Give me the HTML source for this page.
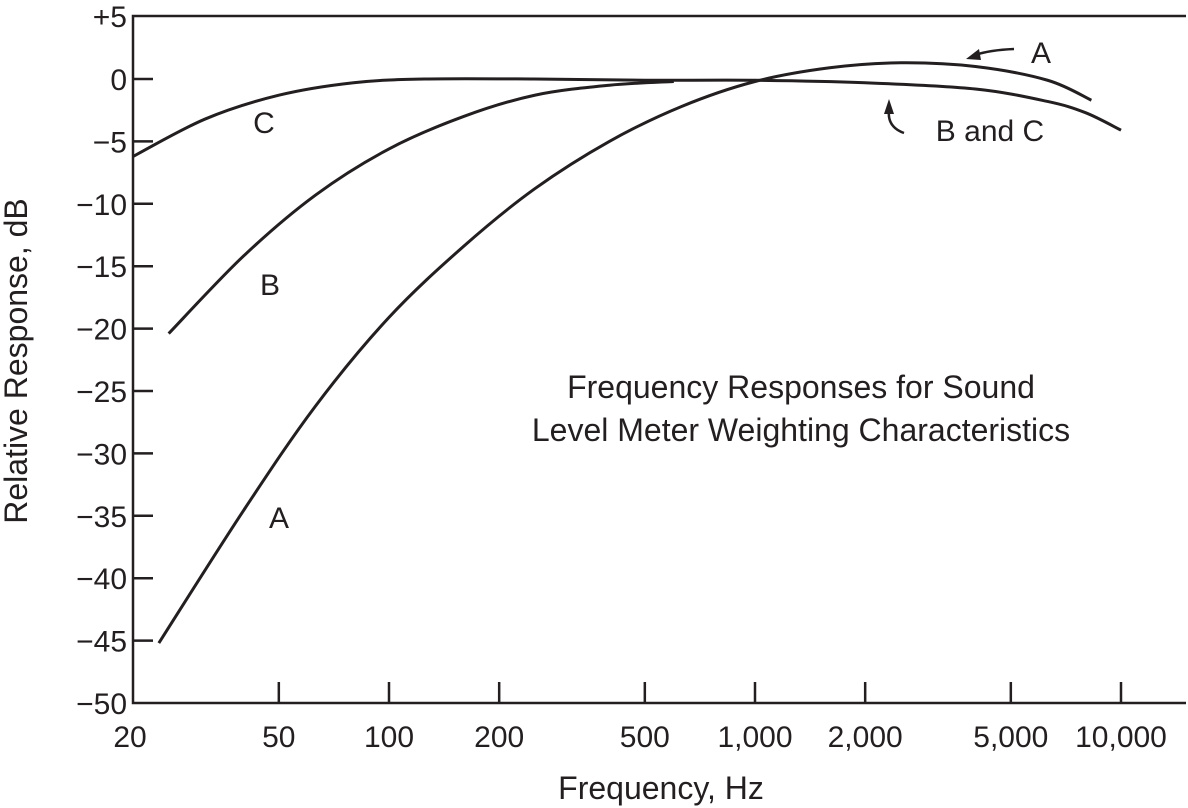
<!DOCTYPE html>
<html><head><meta charset="utf-8"><style>
html,body{margin:0;padding:0;background:#fff}
svg{display:block}
text{font-family:"Liberation Sans",Arial,sans-serif;fill:#231f20}
</style></head><body>
<svg id="chart" width="1188" height="808" viewBox="0 0 1188 808" xmlns="http://www.w3.org/2000/svg">
<g id="axes"></g>
<g id="series"></g>
<g id="labels">
<text x="264" y="133" font-size="30" text-anchor="middle">C</text>
<text x="270" y="295" font-size="30" text-anchor="middle">B</text>
<text x="279" y="528" font-size="30" text-anchor="middle">A</text>
<text x="1041" y="63" font-size="30" text-anchor="middle">A</text>
<text x="990" y="141" font-size="30" text-anchor="middle">B and C</text>
<text x="801" y="398" font-size="32" text-anchor="middle">Frequency Responses for Sound</text>
<text x="801" y="441" font-size="32" text-anchor="middle">Level Meter Weighting Characteristics</text>
<text x="661" y="799" font-size="32" text-anchor="middle">Frequency, Hz</text>
<text transform="translate(27,361) rotate(-90)" font-size="32" text-anchor="middle">Relative Response, dB</text>
<path d="M1014,49 Q990,50 975,55" fill="none" stroke="#231f20" stroke-width="2.5"/>
<path d="M966,59 L979,49 L981,60 Z" fill="#231f20"/>
<path d="M904,133 Q887,127 889,110" fill="none" stroke="#231f20" stroke-width="2.5"/>
<path d="M889,99 L884,114 L894,114 Z" fill="#231f20"/>
</g>
</svg>
<script>
const yTicks=[5,0,-5,-10,-15,-20,-25,-30,-35,-40,-45,-50];
const yTickLabels=["+5","0","\u22125","\u221210","\u221215","\u221220","\u221225","\u221230","\u221235","\u221240","\u221245","\u221250"];
const xTicks=[20,50,100,200,500,1000,2000,5000,10000];
const xTickLabels=["20","50","100","200","500","1,000","2,000","5,000","10,000"];
const freqA=[23.5,40,63,100,160,250,400,630,1000,1600,2500,4000,6300,8300];
const dbA=[-45.2,-34.6,-26.2,-19.1,-13.4,-8.8,-5.0,-2.2,-0.2,0.9,1.3,1.0,-0.1,-1.7];
const freqB=[25,40,63,100,160,250,400,600];
const dbB=[-20.4,-14.2,-9.3,-5.6,-3.0,-1.3,-0.5,-0.2];
const freqC=[20,31.5,50,80,125,250,500,1000,2000,4000,6300,8000,10000];
const dbC=[-6.2,-3.2,-1.3,-0.3,0,0,-0.1,-0.1,-0.3,-0.8,-1.8,-2.7,-4.1];

const NS="http://www.w3.org/2000/svg";
const xs=f=>389+366*Math.log10(f/100);
const ys=d=>79-d*12.48;
const L=133,R=1186,T=16,B=703;
const axes=document.getElementById('axes');
function el(tag,attrs,parent){const e=document.createElementNS(NS,tag);for(const k in attrs)e.setAttribute(k,attrs[k]);parent.appendChild(e);return e;}
let ln=el('path',{d:`M${R},${T} L${L},${T} L${L},${B} L${R},${B}`,fill:'none',stroke:'#231f20','stroke-width':2.5},axes);


yTicks.forEach((v,i)=>{
  const y=v===5?T:(v===-50?B:ys(v));
  if(v!==5&&v!==-50){const t=el('line',{x1:L,x2:L+20,y1:y,y2:y,stroke:'#231f20','stroke-width':2.5},axes);
  
  }
  const tx=el('text',{x:L-6,y:y+11,'font-size':30,'text-anchor':'end'},axes);
  tx.textContent=yTickLabels[i];
  
  
});
xTicks.forEach((f,i)=>{
  const x=xs(f);
  if(i>0){const t=el('line',{x1:x,x2:x,y1:B,y2:B-21,stroke:'#231f20','stroke-width':2.5},axes);
  
  }
  const tx=el('text',{x:i===0?L-3:x,y:B+44,'font-size':30,'text-anchor':'middle'},axes);
  tx.textContent=xTickLabels[i];
  
  
});
function curve(fr,db){
  const p=fr.map((f,i)=>[xs(f),ys(db[i])]);
  let d=`M${p[0][0]},${p[0][1]}`;
  for(let i=0;i<p.length-1;i++){
    const p0=p[i-1]||p[i],p1=p[i],p2=p[i+1],p3=p[i+2]||p2;
    const c1=[p1[0]+(p2[0]-p0[0])/6,p1[1]+(p2[1]-p0[1])/6];
    const c2=[p2[0]-(p3[0]-p1[0])/6,p2[1]-(p3[1]-p1[1])/6];
    d+=` C${c1[0]},${c1[1]} ${c2[0]},${c2[1]} ${p2[0]},${p2[1]}`;
  }
  return d;
}
const series=document.getElementById('series');
const sa=el('path',{d:curve(freqA,dbA),fill:'none',stroke:'#231f20','stroke-width':3},series);


const sb=el('path',{d:curve(freqB,dbB),fill:'none',stroke:'#231f20','stroke-width':3},series);


const sc=el('path',{d:curve(freqC,dbC),fill:'none',stroke:'#231f20','stroke-width':3},series);


</script>
</body></html>
